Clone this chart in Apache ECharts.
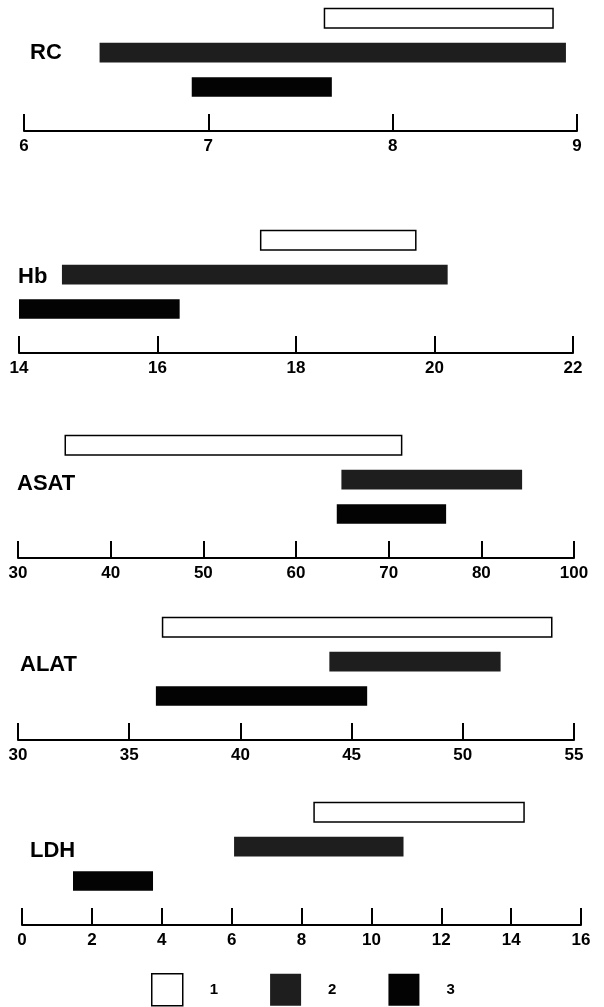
<!DOCTYPE html>
<html>
<head>
<meta charset="utf-8">
<script src="https://cdn.jsdelivr.net/npm/echarts@6/dist/echarts.min.js"></script>
<style>
  html, body { margin: 0; padding: 0; background: #fff; }
  #chart { width: 604px; height: 1007px; }
</style>
</head>
<body>
<div id="chart"></div>
<script>
// panel names and axis ranges
const panels = ["RC", "Hb", "ASAT", "ALAT", "LDH"];
const axisMin = [6, 14, 30, 30, 0];
const axisMax = [9, 22, 90, 55, 16];
const axisStep = [1, 2, 10, 5, 2];
// ASAT axis: last tick is labelled 100 although spaced like 90
const asatLastLabel = "100";

// ranges [start, end] per panel
const range1 = [[7.63, 8.87], [17.49, 19.73], [35.1, 71.4], [36.5, 54.0], [8.36, 14.37]];
const range2 = [[6.41, 8.94], [14.62, 20.19], [64.9, 84.4], [44.0, 51.7], [6.07, 10.92]];
const range3 = [[6.91, 7.67], [14.0, 16.32], [64.4, 76.2], [36.2, 45.7], [1.46, 3.75]];

const legendNames = ["1", "2", "3"];

// layout (pixels)
const axisY = [131, 353, 558, 740, 925];
const gridLeft = [24, 19, 18, 18, 22];
const gridRight = [27, 31, 30, 30, 23];
const gridH = 130;
const labelPos = [[30, 54], [18, 278], [17, 485], [20, 666], [30, 852]];

const font = "Liberation Sans";
const styles = [
  { color: "#fff", borderColor: "#000", borderWidth: 1.5 },
  { color: "#1e1e1e" },
  { color: "#030303" },
];

function renderItem(params, api) {
  const row = api.value(0);
  const p0 = api.coord([api.value(1), row]);
  const p1 = api.coord([api.value(2), row]);
  const h = api.size([0, 1])[1] * 0.57;
  return {
    type: "rect",
    shape: { x: p0[0], y: p0[1] - h / 2, width: p1[0] - p0[0], height: h },
    style: api.style(),
  };
}

const grids = [], xAxes = [], yAxes = [], series = [], graphics = [];
panels.forEach((name, i) => {
  grids.push({
    left: gridLeft[i],
    right: gridRight[i],
    top: axisY[i] - gridH,
    height: gridH,
  });
  xAxes.push({
    type: "value",
    gridIndex: i,
    min: axisMin[i],
    max: axisMax[i],
    interval: axisStep[i],
    splitLine: { show: false },
    axisLine: { show: true, onZero: false, lineStyle: { color: "#000", width: 2 } },
    axisTick: { show: true, inside: true, length: 17, lineStyle: { color: "#000", width: 2 } },
    axisLabel: {
      color: "#000",
      fontFamily: font,
      fontWeight: "bold",
      fontSize: 17,
      margin: 7,
      showMinLabel: true,
      showMaxLabel: true,
      formatter: (v) => (name === "ASAT" && v === axisMax[i] ? asatLastLabel : String(v)),
    },
  });
  yAxes.push({
    type: "value",
    gridIndex: i,
    min: -0.28,
    max: 3.5,
    show: false,
  });
  [range1, range2, range3].forEach((r, k) => {
    series.push({
      name: legendNames[k],
      type: "custom",
      xAxisIndex: i,
      yAxisIndex: i,
      renderItem: renderItem,
      itemStyle: styles[k],
      encode: { x: [1, 2], y: 0 },
      data: [[3 - k, r[i][0], r[i][1]]],
      silent: true,
    });
  });
  graphics.push({
    type: "text",
    left: labelPos[i][0],
    top: labelPos[i][1] - 12,
    style: {
      text: name,
      fill: "#000",
      font: "bold 22px '" + font + "'",
    },
  });
});

const chart = echarts.init(document.getElementById("chart"));
chart.setOption({
  animation: false,
  backgroundColor: "#fff",
  grid: grids,
  xAxis: xAxes,
  yAxis: yAxes,
  series: series,
  graphic: graphics,
  legend: {
    left: 146,
    top: 968,
    icon: "rect",
    itemWidth: 31,
    itemHeight: 32,
    itemGap: 52,
    selectedMode: false,
    textStyle: {
      color: "#000",
      fontFamily: font,
      fontWeight: "bold",
      fontSize: 15,
      padding: [0, 0, 0, 22],
    },
    data: legendNames.map((n, k) => ({ name: n, itemStyle: styles[k] })),
  },
});
</script>
</body>
</html>
